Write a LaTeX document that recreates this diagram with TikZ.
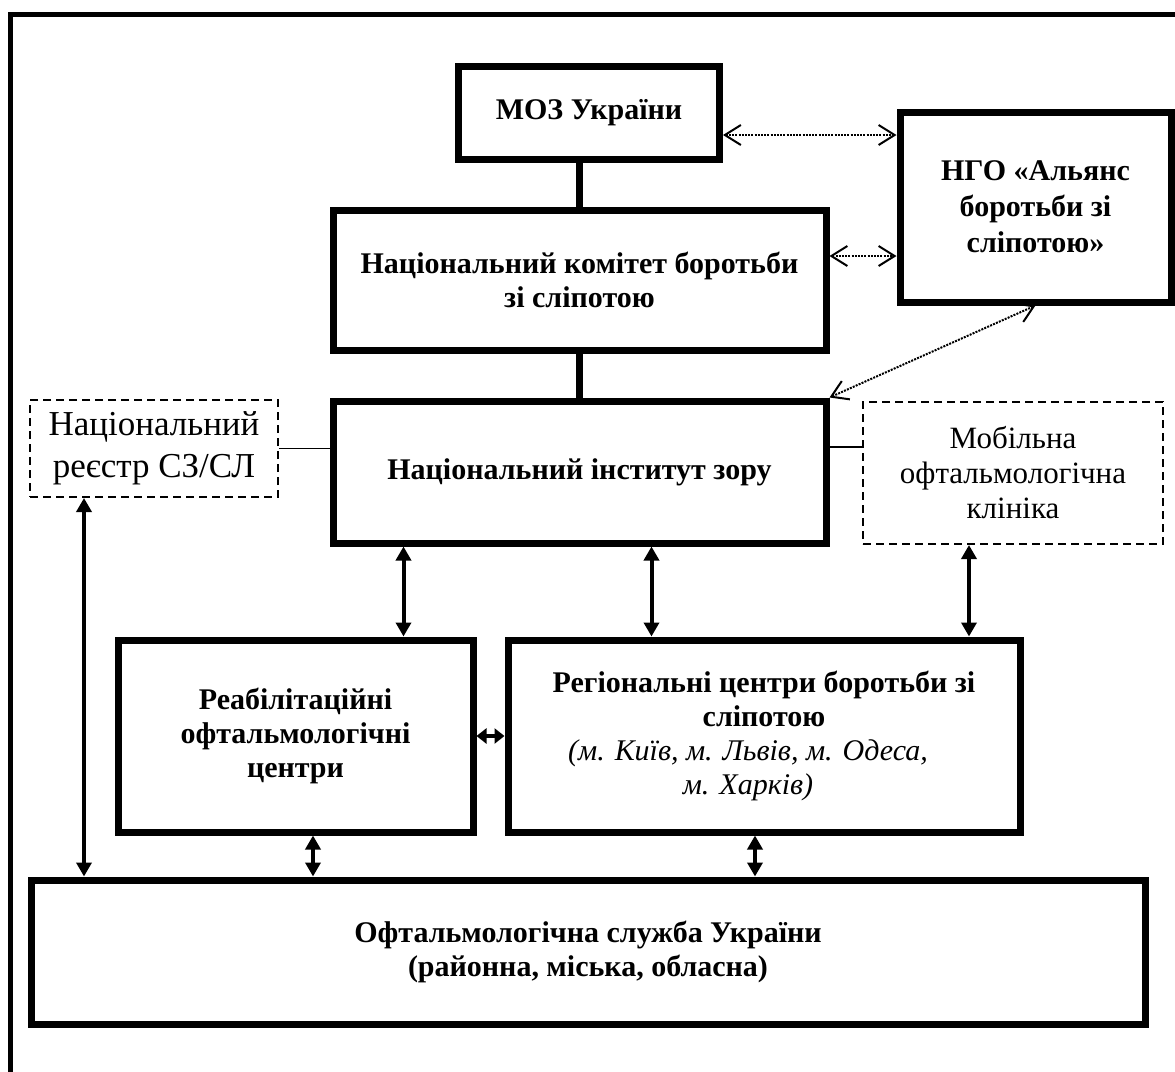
\documentclass[tikz,border=0pt]{standalone}
\usepackage{fontspec}
\setmainfont{Liberation Serif}
\usetikzlibrary{arrows.meta}

\begin{document}
\begin{tikzpicture}[
        x=0.5pt, y=-0.5pt, % координати в пікселях зразка
        blok/.style={draw, line width=3.5pt, align=center, inner sep=0pt, font=\fontsize{15}{17}\selectfont\bfseries}, % основні блоки
        punktir/.style={draw, line width=1pt, dash pattern=on 4pt off 2.5pt, align=center, inner sep=0pt, font=\fontsize{17.5}{21}\selectfont}, % додаткові блоки
        strilka/.style={line width=2pt, {Triangle[length=7pt,width=7.5pt]}-{Triangle[length=7pt,width=7.5pt]}},
        tochky/.style={line width=1pt, dash pattern=on 1pt off 0.6pt, {Straight Barb[length=8pt,width=10pt]}-{Straight Barb[length=8pt,width=10pt]}},
        zvjazok/.style={line width=3.5pt},
        linija/.style={line width=0.8pt},
    ]
    \useasboundingbox (0,0) rectangle (1175,1072);
    \draw[line width=2.5pt] (1190,14) -- (10,14) -- (10,1090); % рамка

    \node[blok, minimum width=130.5pt, minimum height=46.5pt] (moz) at (589,112.5) {МОЗ України};
    \node[blok, minimum width=135.5pt, minimum height=95pt, font=\fontsize{15}{18}\selectfont\bfseries] (ngo) at (1035.5,207) {НГО «Альянс\\боротьби зі\\сліпотою»};
    \node[blok, minimum width=246.5pt, minimum height=70pt] (kom) at (579.5,280) {Національний комітет боротьби\\зі сліпотою};
    \node[blok, minimum width=246.5pt, minimum height=71pt] (inst) at (579.5,472) {Національний інститут зору};
    \node[punktir, minimum width=124pt, minimum height=48.5pt] (reestr) at (154,448.5) {Національний\\реєстр СЗ/СЛ};
    \node[punktir, minimum width=150pt, minimum height=71pt, font=\fontsize{15.5}{17.5}\selectfont] (mob) at (1013,473) {Мобільна\\офтальмологічна\\клініка};
    \node[blok, minimum width=177.5pt, minimum height=96pt] (reab) at (295.5,736) {Реабілітаційні\\офтальмологічні\\центри};
    \node[blok, minimum width=256pt, minimum height=96pt] (regc) at (764,736) {Регіональні центри боротьби зі\\сліпотою\\{\mdseries\itshape (м. Київ, м. Львів, м. Одеса,}\hspace*{16pt}\mbox{}\\{\mdseries\itshape м. Харків)}\hspace*{16pt}\mbox{}};
    \node[blok, minimum width=557pt, minimum height=72pt] (sluzh) at (588,952) {Офтальмологічна служба України\\(районна, міська, обласна)};

    % вертикальні зв'язки
    \draw[zvjazok] (kom.north) -- (kom.north |- moz.south);
    \draw[zvjazok] (kom.south) -- (inst.north);
    \draw[linija] (reestr.east) -- (reestr.east -| inst.west);
    \draw[linija] ([yshift=13pt]mob.west) -- ([yshift=13pt]mob.west -| inst.east);

    % пунктирні стрілки
    \draw[tochky] ([yshift=-11.25pt]moz.east) -- ([yshift=-11.25pt]moz.east -| ngo.west);
    \draw[tochky] ([yshift=12pt]kom.east) -- ([yshift=12pt]kom.east -| ngo.west);
    \draw[tochky] (ngo.south) -- (inst.north east);

    % суцільні стрілки
    \draw[strilka] ([xshift=-88pt]inst.south) -- ([xshift=-88pt]inst.south |- reab.north);
    \draw[strilka] ([xshift=36pt]inst.south) -- ([xshift=36pt]inst.south |- regc.north);
    \draw[strilka] ([xshift=-22pt]mob.south) -- ([xshift=-22pt]mob.south |- regc.north);
    \draw[strilka, {Triangle[length=5pt,width=7.5pt]}-{Triangle[length=5pt,width=7.5pt]}] (reab.east) -- (regc.west);
    \draw[strilka] ([xshift=-35pt]reestr.south) -- ([xshift=-35pt]reestr.south |- sluzh.north);
    \draw[strilka] ([xshift=8.75pt]reab.south) -- ([xshift=8.75pt]reab.south |- sluzh.north);
    \draw[strilka] ([xshift=-4.5pt]regc.south) -- ([xshift=-4.5pt]regc.south |- sluzh.north);
\end{tikzpicture}
\end{document}
